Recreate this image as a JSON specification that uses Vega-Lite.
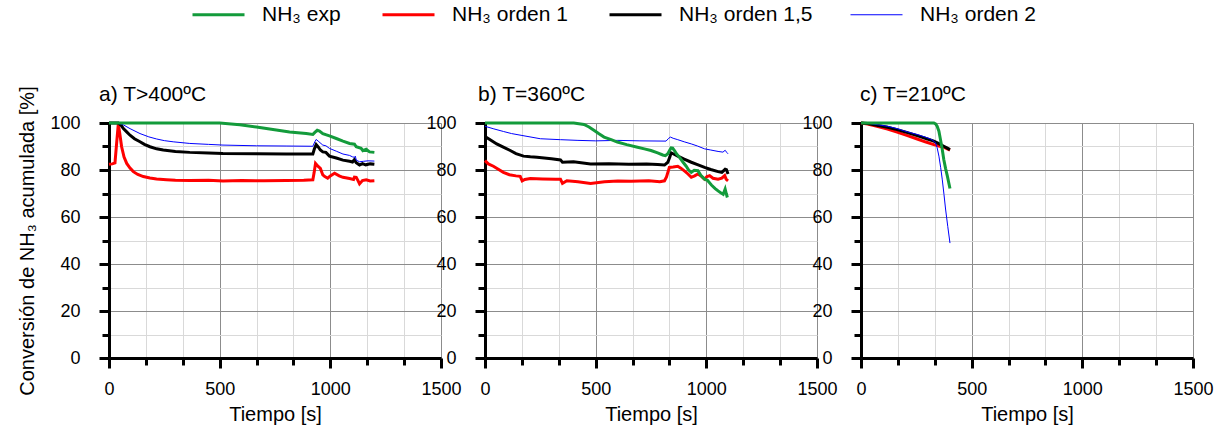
{
  "$schema": "https://vega.github.io/schema/vega-lite/v6.json",
  "padding": {"left": 17, "top": 4, "right": 4, "bottom": 4},
  "config": {
    "font": "Liberation Sans",
    "view": {"stroke": null},
    "axis": {
      "domainColor": "#000000",
      "domainWidth": 3,
      "tickColor": "#000000",
      "tickWidth": 3,
      "gridWidth": 1,
      "labelFontSize": 18,
      "labelColor": "#000000",
      "titleFontSize": 20,
      "titleFontWeight": "normal",
      "titleColor": "#000000",
      "labelOverlap": false,
      "labelFlush": false
    },
    "title": {"fontSize": 21, "fontWeight": "normal", "color": "#000000", "anchor": "start", "frame": "group", "baseline": "alphabetic", "offset": 9},
    "legend": {"labelFontSize": 21, "labelColor": "#000000", "labelLimit": 400}
  },
  "datasets": {
    "curvas": [
      {"panel": "a", "serie": "NH₃ orden 1", "tiempo": 0, "conversion": 82.4},
      {"panel": "a", "serie": "NH₃ orden 1", "tiempo": 15, "conversion": 82.6},
      {"panel": "a", "serie": "NH₃ orden 1", "tiempo": 27, "conversion": 83},
      {"panel": "a", "serie": "NH₃ orden 1", "tiempo": 35, "conversion": 92},
      {"panel": "a", "serie": "NH₃ orden 1", "tiempo": 42, "conversion": 99.5},
      {"panel": "a", "serie": "NH₃ orden 1", "tiempo": 48, "conversion": 96},
      {"panel": "a", "serie": "NH₃ orden 1", "tiempo": 57, "conversion": 89.9},
      {"panel": "a", "serie": "NH₃ orden 1", "tiempo": 68, "conversion": 85.5},
      {"panel": "a", "serie": "NH₃ orden 1", "tiempo": 80, "conversion": 82.8},
      {"panel": "a", "serie": "NH₃ orden 1", "tiempo": 95, "conversion": 80.8},
      {"panel": "a", "serie": "NH₃ orden 1", "tiempo": 110, "conversion": 79.3},
      {"panel": "a", "serie": "NH₃ orden 1", "tiempo": 130, "conversion": 78.1},
      {"panel": "a", "serie": "NH₃ orden 1", "tiempo": 155, "conversion": 77.2},
      {"panel": "a", "serie": "NH₃ orden 1", "tiempo": 185, "conversion": 76.6},
      {"panel": "a", "serie": "NH₃ orden 1", "tiempo": 215, "conversion": 76.2},
      {"panel": "a", "serie": "NH₃ orden 1", "tiempo": 260, "conversion": 75.9},
      {"panel": "a", "serie": "NH₃ orden 1", "tiempo": 300, "conversion": 75.6},
      {"panel": "a", "serie": "NH₃ orden 1", "tiempo": 365, "conversion": 75.5},
      {"panel": "a", "serie": "NH₃ orden 1", "tiempo": 450, "conversion": 75.6},
      {"panel": "a", "serie": "NH₃ orden 1", "tiempo": 515, "conversion": 75.3},
      {"panel": "a", "serie": "NH₃ orden 1", "tiempo": 600, "conversion": 75.5},
      {"panel": "a", "serie": "NH₃ orden 1", "tiempo": 700, "conversion": 75.4},
      {"panel": "a", "serie": "NH₃ orden 1", "tiempo": 800, "conversion": 75.5},
      {"panel": "a", "serie": "NH₃ orden 1", "tiempo": 880, "conversion": 75.6},
      {"panel": "a", "serie": "NH₃ orden 1", "tiempo": 921, "conversion": 75.8},
      {"panel": "a", "serie": "NH₃ orden 1", "tiempo": 927, "conversion": 79},
      {"panel": "a", "serie": "NH₃ orden 1", "tiempo": 933, "conversion": 82.8},
      {"panel": "a", "serie": "NH₃ orden 1", "tiempo": 945, "conversion": 81.5},
      {"panel": "a", "serie": "NH₃ orden 1", "tiempo": 955, "conversion": 80.7},
      {"panel": "a", "serie": "NH₃ orden 1", "tiempo": 966, "conversion": 77.9},
      {"panel": "a", "serie": "NH₃ orden 1", "tiempo": 975, "conversion": 77.2},
      {"panel": "a", "serie": "NH₃ orden 1", "tiempo": 988, "conversion": 76.5},
      {"panel": "a", "serie": "NH₃ orden 1", "tiempo": 1000, "conversion": 77.5},
      {"panel": "a", "serie": "NH₃ orden 1", "tiempo": 1019, "conversion": 78.6},
      {"panel": "a", "serie": "NH₃ orden 1", "tiempo": 1040, "conversion": 77.5},
      {"panel": "a", "serie": "NH₃ orden 1", "tiempo": 1057, "conversion": 76.9},
      {"panel": "a", "serie": "NH₃ orden 1", "tiempo": 1087, "conversion": 76.4},
      {"panel": "a", "serie": "NH₃ orden 1", "tiempo": 1105, "conversion": 76},
      {"panel": "a", "serie": "NH₃ orden 1", "tiempo": 1109, "conversion": 77},
      {"panel": "a", "serie": "NH₃ orden 1", "tiempo": 1117, "conversion": 76.9},
      {"panel": "a", "serie": "NH₃ orden 1", "tiempo": 1125, "conversion": 75.5},
      {"panel": "a", "serie": "NH₃ orden 1", "tiempo": 1132, "conversion": 74.1},
      {"panel": "a", "serie": "NH₃ orden 1", "tiempo": 1145, "conversion": 75.5},
      {"panel": "a", "serie": "NH₃ orden 1", "tiempo": 1162, "conversion": 75.8},
      {"panel": "a", "serie": "NH₃ orden 1", "tiempo": 1180, "conversion": 75.3},
      {"panel": "a", "serie": "NH₃ orden 1", "tiempo": 1199, "conversion": 75.4},

      {"panel": "a", "serie": "NH₃ orden 1,5", "tiempo": 0, "conversion": 100},
      {"panel": "a", "serie": "NH₃ orden 1,5", "tiempo": 42, "conversion": 100},
      {"panel": "a", "serie": "NH₃ orden 1,5", "tiempo": 55, "conversion": 99},
      {"panel": "a", "serie": "NH₃ orden 1,5", "tiempo": 65, "conversion": 97.6},
      {"panel": "a", "serie": "NH₃ orden 1,5", "tiempo": 80, "conversion": 96.2},
      {"panel": "a", "serie": "NH₃ orden 1,5", "tiempo": 95, "conversion": 94.8},
      {"panel": "a", "serie": "NH₃ orden 1,5", "tiempo": 115, "conversion": 93.3},
      {"panel": "a", "serie": "NH₃ orden 1,5", "tiempo": 140, "conversion": 92},
      {"panel": "a", "serie": "NH₃ orden 1,5", "tiempo": 160, "conversion": 90.9},
      {"panel": "a", "serie": "NH₃ orden 1,5", "tiempo": 185, "conversion": 89.9},
      {"panel": "a", "serie": "NH₃ orden 1,5", "tiempo": 215, "conversion": 89},
      {"panel": "a", "serie": "NH₃ orden 1,5", "tiempo": 245, "conversion": 88.5},
      {"panel": "a", "serie": "NH₃ orden 1,5", "tiempo": 300, "conversion": 87.9},
      {"panel": "a", "serie": "NH₃ orden 1,5", "tiempo": 365, "conversion": 87.5},
      {"panel": "a", "serie": "NH₃ orden 1,5", "tiempo": 450, "conversion": 87.2},
      {"panel": "a", "serie": "NH₃ orden 1,5", "tiempo": 515, "conversion": 87},
      {"panel": "a", "serie": "NH₃ orden 1,5", "tiempo": 666, "conversion": 86.9},
      {"panel": "a", "serie": "NH₃ orden 1,5", "tiempo": 800, "conversion": 86.8},
      {"panel": "a", "serie": "NH₃ orden 1,5", "tiempo": 921, "conversion": 86.8},
      {"panel": "a", "serie": "NH₃ orden 1,5", "tiempo": 928, "conversion": 89},
      {"panel": "a", "serie": "NH₃ orden 1,5", "tiempo": 936, "conversion": 90.8},
      {"panel": "a", "serie": "NH₃ orden 1,5", "tiempo": 945, "conversion": 89.8},
      {"panel": "a", "serie": "NH₃ orden 1,5", "tiempo": 955, "conversion": 88.5},
      {"panel": "a", "serie": "NH₃ orden 1,5", "tiempo": 966, "conversion": 87.7},
      {"panel": "a", "serie": "NH₃ orden 1,5", "tiempo": 980, "conversion": 87.5},
      {"panel": "a", "serie": "NH₃ orden 1,5", "tiempo": 996, "conversion": 85.9},
      {"panel": "a", "serie": "NH₃ orden 1,5", "tiempo": 1027, "conversion": 85.1},
      {"panel": "a", "serie": "NH₃ orden 1,5", "tiempo": 1057, "conversion": 84.2},
      {"panel": "a", "serie": "NH₃ orden 1,5", "tiempo": 1087, "conversion": 83.7},
      {"panel": "a", "serie": "NH₃ orden 1,5", "tiempo": 1100, "conversion": 83.4},
      {"panel": "a", "serie": "NH₃ orden 1,5", "tiempo": 1109, "conversion": 84.4},
      {"panel": "a", "serie": "NH₃ orden 1,5", "tiempo": 1117, "conversion": 83.1},
      {"panel": "a", "serie": "NH₃ orden 1,5", "tiempo": 1132, "conversion": 82.1},
      {"panel": "a", "serie": "NH₃ orden 1,5", "tiempo": 1145, "conversion": 82.7},
      {"panel": "a", "serie": "NH₃ orden 1,5", "tiempo": 1160, "conversion": 82.2},
      {"panel": "a", "serie": "NH₃ orden 1,5", "tiempo": 1180, "conversion": 82.6},
      {"panel": "a", "serie": "NH₃ orden 1,5", "tiempo": 1199, "conversion": 82.4},

      {"panel": "a", "serie": "NH₃ orden 2", "tiempo": 0, "conversion": 100},
      {"panel": "a", "serie": "NH₃ orden 2", "tiempo": 42, "conversion": 100},
      {"panel": "a", "serie": "NH₃ orden 2", "tiempo": 65, "conversion": 99.2},
      {"panel": "a", "serie": "NH₃ orden 2", "tiempo": 95, "conversion": 97.6},
      {"panel": "a", "serie": "NH₃ orden 2", "tiempo": 140, "conversion": 95.5},
      {"panel": "a", "serie": "NH₃ orden 2", "tiempo": 180, "conversion": 94.1},
      {"panel": "a", "serie": "NH₃ orden 2", "tiempo": 215, "conversion": 93.2},
      {"panel": "a", "serie": "NH₃ orden 2", "tiempo": 250, "conversion": 92.5},
      {"panel": "a", "serie": "NH₃ orden 2", "tiempo": 290, "conversion": 92},
      {"panel": "a", "serie": "NH₃ orden 2", "tiempo": 365, "conversion": 91.3},
      {"panel": "a", "serie": "NH₃ orden 2", "tiempo": 450, "conversion": 90.9},
      {"panel": "a", "serie": "NH₃ orden 2", "tiempo": 515, "conversion": 90.6},
      {"panel": "a", "serie": "NH₃ orden 2", "tiempo": 666, "conversion": 90.3},
      {"panel": "a", "serie": "NH₃ orden 2", "tiempo": 800, "conversion": 90.2},
      {"panel": "a", "serie": "NH₃ orden 2", "tiempo": 921, "conversion": 90.1},
      {"panel": "a", "serie": "NH₃ orden 2", "tiempo": 930, "conversion": 92},
      {"panel": "a", "serie": "NH₃ orden 2", "tiempo": 936, "conversion": 93},
      {"panel": "a", "serie": "NH₃ orden 2", "tiempo": 945, "conversion": 92.3},
      {"panel": "a", "serie": "NH₃ orden 2", "tiempo": 966, "conversion": 90.6},
      {"panel": "a", "serie": "NH₃ orden 2", "tiempo": 980, "conversion": 90.3},
      {"panel": "a", "serie": "NH₃ orden 2", "tiempo": 996, "conversion": 89.2},
      {"panel": "a", "serie": "NH₃ orden 2", "tiempo": 1027, "conversion": 88},
      {"panel": "a", "serie": "NH₃ orden 2", "tiempo": 1057, "conversion": 86.8},
      {"panel": "a", "serie": "NH₃ orden 2", "tiempo": 1087, "conversion": 86.2},
      {"panel": "a", "serie": "NH₃ orden 2", "tiempo": 1100, "conversion": 85.6},
      {"panel": "a", "serie": "NH₃ orden 2", "tiempo": 1109, "conversion": 85.4},
      {"panel": "a", "serie": "NH₃ orden 2", "tiempo": 1113, "conversion": 85.9},
      {"panel": "a", "serie": "NH₃ orden 2", "tiempo": 1117, "conversion": 84.2},
      {"panel": "a", "serie": "NH₃ orden 2", "tiempo": 1132, "conversion": 83.5},
      {"panel": "a", "serie": "NH₃ orden 2", "tiempo": 1150, "conversion": 83.7},
      {"panel": "a", "serie": "NH₃ orden 2", "tiempo": 1170, "conversion": 83.9},
      {"panel": "a", "serie": "NH₃ orden 2", "tiempo": 1199, "conversion": 83.8},

      {"panel": "a", "serie": "NH₃ exp", "tiempo": 0, "conversion": 100},
      {"panel": "a", "serie": "NH₃ exp", "tiempo": 200, "conversion": 100},
      {"panel": "a", "serie": "NH₃ exp", "tiempo": 400, "conversion": 100},
      {"panel": "a", "serie": "NH₃ exp", "tiempo": 500, "conversion": 100},
      {"panel": "a", "serie": "NH₃ exp", "tiempo": 591, "conversion": 99.3},
      {"panel": "a", "serie": "NH₃ exp", "tiempo": 666, "conversion": 98.3},
      {"panel": "a", "serie": "NH₃ exp", "tiempo": 741, "conversion": 97.2},
      {"panel": "a", "serie": "NH₃ exp", "tiempo": 816, "conversion": 96.2},
      {"panel": "a", "serie": "NH₃ exp", "tiempo": 891, "conversion": 95.5},
      {"panel": "a", "serie": "NH₃ exp", "tiempo": 921, "conversion": 95.1},
      {"panel": "a", "serie": "NH₃ exp", "tiempo": 930, "conversion": 96},
      {"panel": "a", "serie": "NH₃ exp", "tiempo": 941, "conversion": 96.9},
      {"panel": "a", "serie": "NH₃ exp", "tiempo": 951, "conversion": 96.6},
      {"panel": "a", "serie": "NH₃ exp", "tiempo": 966, "conversion": 95.5},
      {"panel": "a", "serie": "NH₃ exp", "tiempo": 996, "conversion": 94.5},
      {"panel": "a", "serie": "NH₃ exp", "tiempo": 1027, "conversion": 93.4},
      {"panel": "a", "serie": "NH₃ exp", "tiempo": 1057, "conversion": 92.3},
      {"panel": "a", "serie": "NH₃ exp", "tiempo": 1087, "conversion": 91.3},
      {"panel": "a", "serie": "NH₃ exp", "tiempo": 1109, "conversion": 91},
      {"panel": "a", "serie": "NH₃ exp", "tiempo": 1117, "conversion": 89.9},
      {"panel": "a", "serie": "NH₃ exp", "tiempo": 1139, "conversion": 89.2},
      {"panel": "a", "serie": "NH₃ exp", "tiempo": 1147, "conversion": 88.2},
      {"panel": "a", "serie": "NH₃ exp", "tiempo": 1162, "conversion": 88.8},
      {"panel": "a", "serie": "NH₃ exp", "tiempo": 1177, "conversion": 87.7},
      {"panel": "a", "serie": "NH₃ exp", "tiempo": 1199, "conversion": 87.5},

      {"panel": "b", "serie": "NH₃ orden 1", "tiempo": 0, "conversion": 84},
      {"panel": "b", "serie": "NH₃ orden 1", "tiempo": 15, "conversion": 82.6},
      {"panel": "b", "serie": "NH₃ orden 1", "tiempo": 38, "conversion": 81.6},
      {"panel": "b", "serie": "NH₃ orden 1", "tiempo": 60, "conversion": 80.3},
      {"panel": "b", "serie": "NH₃ orden 1", "tiempo": 83, "conversion": 79},
      {"panel": "b", "serie": "NH₃ orden 1", "tiempo": 110, "conversion": 78},
      {"panel": "b", "serie": "NH₃ orden 1", "tiempo": 140, "conversion": 77.5},
      {"panel": "b", "serie": "NH₃ orden 1", "tiempo": 159, "conversion": 77.3},
      {"panel": "b", "serie": "NH₃ orden 1", "tiempo": 168, "conversion": 75.4},
      {"panel": "b", "serie": "NH₃ orden 1", "tiempo": 180, "conversion": 76},
      {"panel": "b", "serie": "NH₃ orden 1", "tiempo": 205, "conversion": 76.4},
      {"panel": "b", "serie": "NH₃ orden 1", "tiempo": 260, "conversion": 76.2},
      {"panel": "b", "serie": "NH₃ orden 1", "tiempo": 320, "conversion": 76.1},
      {"panel": "b", "serie": "NH₃ orden 1", "tiempo": 341, "conversion": 76.1},
      {"panel": "b", "serie": "NH₃ orden 1", "tiempo": 350, "conversion": 74.3},
      {"panel": "b", "serie": "NH₃ orden 1", "tiempo": 370, "conversion": 75.4},
      {"panel": "b", "serie": "NH₃ orden 1", "tiempo": 420, "conversion": 75},
      {"panel": "b", "serie": "NH₃ orden 1", "tiempo": 477, "conversion": 74.3},
      {"panel": "b", "serie": "NH₃ orden 1", "tiempo": 540, "conversion": 75},
      {"panel": "b", "serie": "NH₃ orden 1", "tiempo": 600, "conversion": 75.3},
      {"panel": "b", "serie": "NH₃ orden 1", "tiempo": 660, "conversion": 75.2},
      {"panel": "b", "serie": "NH₃ orden 1", "tiempo": 740, "conversion": 75.4},
      {"panel": "b", "serie": "NH₃ orden 1", "tiempo": 790, "conversion": 75},
      {"panel": "b", "serie": "NH₃ orden 1", "tiempo": 811, "conversion": 75.4},
      {"panel": "b", "serie": "NH₃ orden 1", "tiempo": 820, "conversion": 77},
      {"panel": "b", "serie": "NH₃ orden 1", "tiempo": 833, "conversion": 81.1},
      {"panel": "b", "serie": "NH₃ orden 1", "tiempo": 850, "conversion": 81.3},
      {"panel": "b", "serie": "NH₃ orden 1", "tiempo": 871, "conversion": 81.6},
      {"panel": "b", "serie": "NH₃ orden 1", "tiempo": 885, "conversion": 80.8},
      {"panel": "b", "serie": "NH₃ orden 1", "tiempo": 905, "conversion": 79.3},
      {"panel": "b", "serie": "NH₃ orden 1", "tiempo": 917, "conversion": 78.3},
      {"panel": "b", "serie": "NH₃ orden 1", "tiempo": 932, "conversion": 76.9},
      {"panel": "b", "serie": "NH₃ orden 1", "tiempo": 947, "conversion": 77.5},
      {"panel": "b", "serie": "NH₃ orden 1", "tiempo": 962, "conversion": 78.3},
      {"panel": "b", "serie": "NH₃ orden 1", "tiempo": 978, "conversion": 77.3},
      {"panel": "b", "serie": "NH₃ orden 1", "tiempo": 992, "conversion": 76.1},
      {"panel": "b", "serie": "NH₃ orden 1", "tiempo": 1003, "conversion": 77.2},
      {"panel": "b", "serie": "NH₃ orden 1", "tiempo": 1015, "conversion": 77.6},
      {"panel": "b", "serie": "NH₃ orden 1", "tiempo": 1030, "conversion": 76.5},
      {"panel": "b", "serie": "NH₃ orden 1", "tiempo": 1053, "conversion": 76.1},
      {"panel": "b", "serie": "NH₃ orden 1", "tiempo": 1070, "conversion": 76.5},
      {"panel": "b", "serie": "NH₃ orden 1", "tiempo": 1083, "conversion": 77.6},
      {"panel": "b", "serie": "NH₃ orden 1", "tiempo": 1090, "conversion": 76},
      {"panel": "b", "serie": "NH₃ orden 1", "tiempo": 1098, "conversion": 75.4},

      {"panel": "b", "serie": "NH₃ orden 1,5", "tiempo": 0, "conversion": 94.3},
      {"panel": "b", "serie": "NH₃ orden 1,5", "tiempo": 25, "conversion": 92.8},
      {"panel": "b", "serie": "NH₃ orden 1,5", "tiempo": 53, "conversion": 91.1},
      {"panel": "b", "serie": "NH₃ orden 1,5", "tiempo": 85, "conversion": 89.6},
      {"panel": "b", "serie": "NH₃ orden 1,5", "tiempo": 114, "conversion": 88.3},
      {"panel": "b", "serie": "NH₃ orden 1,5", "tiempo": 140, "conversion": 87},
      {"panel": "b", "serie": "NH₃ orden 1,5", "tiempo": 174, "conversion": 85.9},
      {"panel": "b", "serie": "NH₃ orden 1,5", "tiempo": 205, "conversion": 85.6},
      {"panel": "b", "serie": "NH₃ orden 1,5", "tiempo": 235, "conversion": 85.4},
      {"panel": "b", "serie": "NH₃ orden 1,5", "tiempo": 300, "conversion": 84.8},
      {"panel": "b", "serie": "NH₃ orden 1,5", "tiempo": 341, "conversion": 84.3},
      {"panel": "b", "serie": "NH₃ orden 1,5", "tiempo": 350, "conversion": 83.3},
      {"panel": "b", "serie": "NH₃ orden 1,5", "tiempo": 400, "conversion": 83.5},
      {"panel": "b", "serie": "NH₃ orden 1,5", "tiempo": 477, "conversion": 82.6},
      {"panel": "b", "serie": "NH₃ orden 1,5", "tiempo": 560, "conversion": 82.7},
      {"panel": "b", "serie": "NH₃ orden 1,5", "tiempo": 650, "conversion": 82.4},
      {"panel": "b", "serie": "NH₃ orden 1,5", "tiempo": 730, "conversion": 82.6},
      {"panel": "b", "serie": "NH₃ orden 1,5", "tiempo": 780, "conversion": 82.3},
      {"panel": "b", "serie": "NH₃ orden 1,5", "tiempo": 811, "conversion": 82.1},
      {"panel": "b", "serie": "NH₃ orden 1,5", "tiempo": 826, "conversion": 83.3},
      {"panel": "b", "serie": "NH₃ orden 1,5", "tiempo": 835, "conversion": 85.5},
      {"panel": "b", "serie": "NH₃ orden 1,5", "tiempo": 841, "conversion": 87.3},
      {"panel": "b", "serie": "NH₃ orden 1,5", "tiempo": 852, "conversion": 86.8},
      {"panel": "b", "serie": "NH₃ orden 1,5", "tiempo": 871, "conversion": 85.9},
      {"panel": "b", "serie": "NH₃ orden 1,5", "tiempo": 900, "conversion": 84.6},
      {"panel": "b", "serie": "NH₃ orden 1,5", "tiempo": 932, "conversion": 83.3},
      {"panel": "b", "serie": "NH₃ orden 1,5", "tiempo": 960, "conversion": 82.3},
      {"panel": "b", "serie": "NH₃ orden 1,5", "tiempo": 992, "conversion": 81.1},
      {"panel": "b", "serie": "NH₃ orden 1,5", "tiempo": 1020, "conversion": 80.2},
      {"panel": "b", "serie": "NH₃ orden 1,5", "tiempo": 1053, "conversion": 79.3},
      {"panel": "b", "serie": "NH₃ orden 1,5", "tiempo": 1070, "conversion": 79},
      {"panel": "b", "serie": "NH₃ orden 1,5", "tiempo": 1085, "conversion": 80.3},
      {"panel": "b", "serie": "NH₃ orden 1,5", "tiempo": 1091, "conversion": 80.1},
      {"panel": "b", "serie": "NH₃ orden 1,5", "tiempo": 1098, "conversion": 78.3},

      {"panel": "b", "serie": "NH₃ orden 2", "tiempo": 0, "conversion": 98.6},
      {"panel": "b", "serie": "NH₃ orden 2", "tiempo": 40, "conversion": 97.5},
      {"panel": "b", "serie": "NH₃ orden 2", "tiempo": 83, "conversion": 96.4},
      {"panel": "b", "serie": "NH₃ orden 2", "tiempo": 120, "conversion": 95.5},
      {"panel": "b", "serie": "NH₃ orden 2", "tiempo": 167, "conversion": 94.7},
      {"panel": "b", "serie": "NH₃ orden 2", "tiempo": 250, "conversion": 93.3},
      {"panel": "b", "serie": "NH₃ orden 2", "tiempo": 341, "conversion": 92.9},
      {"panel": "b", "serie": "NH₃ orden 2", "tiempo": 420, "conversion": 92.6},
      {"panel": "b", "serie": "NH₃ orden 2", "tiempo": 500, "conversion": 92.4},
      {"panel": "b", "serie": "NH₃ orden 2", "tiempo": 600, "conversion": 92.6},
      {"panel": "b", "serie": "NH₃ orden 2", "tiempo": 700, "conversion": 92.4},
      {"panel": "b", "serie": "NH₃ orden 2", "tiempo": 818, "conversion": 92.3},
      {"panel": "b", "serie": "NH₃ orden 2", "tiempo": 830, "conversion": 93.5},
      {"panel": "b", "serie": "NH₃ orden 2", "tiempo": 838, "conversion": 94},
      {"panel": "b", "serie": "NH₃ orden 2", "tiempo": 850, "conversion": 93.5},
      {"panel": "b", "serie": "NH₃ orden 2", "tiempo": 871, "conversion": 92.9},
      {"panel": "b", "serie": "NH₃ orden 2", "tiempo": 900, "conversion": 92},
      {"panel": "b", "serie": "NH₃ orden 2", "tiempo": 932, "conversion": 91.1},
      {"panel": "b", "serie": "NH₃ orden 2", "tiempo": 960, "conversion": 90.2},
      {"panel": "b", "serie": "NH₃ orden 2", "tiempo": 992, "conversion": 89},
      {"panel": "b", "serie": "NH₃ orden 2", "tiempo": 1020, "conversion": 88.5},
      {"panel": "b", "serie": "NH₃ orden 2", "tiempo": 1053, "conversion": 87.9},
      {"panel": "b", "serie": "NH₃ orden 2", "tiempo": 1075, "conversion": 87.6},
      {"panel": "b", "serie": "NH₃ orden 2", "tiempo": 1085, "conversion": 88.4},
      {"panel": "b", "serie": "NH₃ orden 2", "tiempo": 1092, "conversion": 87.5},
      {"panel": "b", "serie": "NH₃ orden 2", "tiempo": 1098, "conversion": 86.9},

      {"panel": "b", "serie": "NH₃ exp", "tiempo": 0, "conversion": 100},
      {"panel": "b", "serie": "NH₃ exp", "tiempo": 200, "conversion": 100},
      {"panel": "b", "serie": "NH₃ exp", "tiempo": 300, "conversion": 100},
      {"panel": "b", "serie": "NH₃ exp", "tiempo": 401, "conversion": 100},
      {"panel": "b", "serie": "NH₃ exp", "tiempo": 447, "conversion": 99.4},
      {"panel": "b", "serie": "NH₃ exp", "tiempo": 470, "conversion": 98.3},
      {"panel": "b", "serie": "NH₃ exp", "tiempo": 492, "conversion": 96.9},
      {"panel": "b", "serie": "NH₃ exp", "tiempo": 515, "conversion": 95.4},
      {"panel": "b", "serie": "NH₃ exp", "tiempo": 538, "conversion": 94},
      {"panel": "b", "serie": "NH₃ exp", "tiempo": 570, "conversion": 92.9},
      {"panel": "b", "serie": "NH₃ exp", "tiempo": 598, "conversion": 91.9},
      {"panel": "b", "serie": "NH₃ exp", "tiempo": 640, "conversion": 90.8},
      {"panel": "b", "serie": "NH₃ exp", "tiempo": 689, "conversion": 89.7},
      {"panel": "b", "serie": "NH₃ exp", "tiempo": 720, "conversion": 89},
      {"panel": "b", "serie": "NH₃ exp", "tiempo": 750, "conversion": 88.3},
      {"panel": "b", "serie": "NH₃ exp", "tiempo": 780, "conversion": 87.3},
      {"panel": "b", "serie": "NH₃ exp", "tiempo": 803, "conversion": 86.4},
      {"panel": "b", "serie": "NH₃ exp", "tiempo": 815, "conversion": 86.1},
      {"panel": "b", "serie": "NH₃ exp", "tiempo": 826, "conversion": 86.9},
      {"panel": "b", "serie": "NH₃ exp", "tiempo": 835, "conversion": 88.5},
      {"panel": "b", "serie": "NH₃ exp", "tiempo": 841, "conversion": 89.4},
      {"panel": "b", "serie": "NH₃ exp", "tiempo": 848, "conversion": 89.3},
      {"panel": "b", "serie": "NH₃ exp", "tiempo": 856, "conversion": 88.3},
      {"panel": "b", "serie": "NH₃ exp", "tiempo": 866, "conversion": 86.8},
      {"panel": "b", "serie": "NH₃ exp", "tiempo": 879, "conversion": 85.4},
      {"panel": "b", "serie": "NH₃ exp", "tiempo": 895, "conversion": 83.3},
      {"panel": "b", "serie": "NH₃ exp", "tiempo": 909, "conversion": 81.6},
      {"panel": "b", "serie": "NH₃ exp", "tiempo": 920, "conversion": 80},
      {"panel": "b", "serie": "NH₃ exp", "tiempo": 932, "conversion": 79},
      {"panel": "b", "serie": "NH₃ exp", "tiempo": 945, "conversion": 79.9},
      {"panel": "b", "serie": "NH₃ exp", "tiempo": 962, "conversion": 79.7},
      {"panel": "b", "serie": "NH₃ exp", "tiempo": 975, "conversion": 77.7},
      {"panel": "b", "serie": "NH₃ exp", "tiempo": 992, "conversion": 76.1},
      {"panel": "b", "serie": "NH₃ exp", "tiempo": 1005, "conversion": 75.6},
      {"panel": "b", "serie": "NH₃ exp", "tiempo": 1023, "conversion": 73.6},
      {"panel": "b", "serie": "NH₃ exp", "tiempo": 1040, "conversion": 72.1},
      {"panel": "b", "serie": "NH₃ exp", "tiempo": 1053, "conversion": 71.1},
      {"panel": "b", "serie": "NH₃ exp", "tiempo": 1065, "conversion": 70.3},
      {"panel": "b", "serie": "NH₃ exp", "tiempo": 1076, "conversion": 69.7},
      {"panel": "b", "serie": "NH₃ exp", "tiempo": 1085, "conversion": 71.9},
      {"panel": "b", "serie": "NH₃ exp", "tiempo": 1090, "conversion": 70},
      {"panel": "b", "serie": "NH₃ exp", "tiempo": 1095, "conversion": 68.3},

      {"panel": "c", "serie": "NH₃ orden 1", "tiempo": 0, "conversion": 100},
      {"panel": "c", "serie": "NH₃ orden 1", "tiempo": 30, "conversion": 99.6},
      {"panel": "c", "serie": "NH₃ orden 1", "tiempo": 72, "conversion": 98.6},
      {"panel": "c", "serie": "NH₃ orden 1", "tiempo": 120, "conversion": 97.4},
      {"panel": "c", "serie": "NH₃ orden 1", "tiempo": 163, "conversion": 96.1},
      {"panel": "c", "serie": "NH₃ orden 1", "tiempo": 210, "conversion": 94.6},
      {"panel": "c", "serie": "NH₃ orden 1", "tiempo": 254, "conversion": 93.2},
      {"panel": "c", "serie": "NH₃ orden 1", "tiempo": 290, "conversion": 92},
      {"panel": "c", "serie": "NH₃ orden 1", "tiempo": 329, "conversion": 90.8},
      {"panel": "c", "serie": "NH₃ orden 1", "tiempo": 352, "conversion": 90.2},
      {"panel": "c", "serie": "NH₃ orden 1", "tiempo": 374, "conversion": 89.7},
      {"panel": "c", "serie": "NH₃ orden 1", "tiempo": 390, "conversion": 89},
      {"panel": "c", "serie": "NH₃ orden 1", "tiempo": 402, "conversion": 88.5},

      {"panel": "c", "serie": "NH₃ orden 1,5", "tiempo": 0, "conversion": 100},
      {"panel": "c", "serie": "NH₃ orden 1,5", "tiempo": 30, "conversion": 99.8},
      {"panel": "c", "serie": "NH₃ orden 1,5", "tiempo": 72, "conversion": 99},
      {"panel": "c", "serie": "NH₃ orden 1,5", "tiempo": 120, "conversion": 98.2},
      {"panel": "c", "serie": "NH₃ orden 1,5", "tiempo": 163, "conversion": 97.2},
      {"panel": "c", "serie": "NH₃ orden 1,5", "tiempo": 210, "conversion": 95.9},
      {"panel": "c", "serie": "NH₃ orden 1,5", "tiempo": 254, "conversion": 94.6},
      {"panel": "c", "serie": "NH₃ orden 1,5", "tiempo": 290, "conversion": 93.5},
      {"panel": "c", "serie": "NH₃ orden 1,5", "tiempo": 329, "conversion": 92.3},
      {"panel": "c", "serie": "NH₃ orden 1,5", "tiempo": 352, "conversion": 91.2},
      {"panel": "c", "serie": "NH₃ orden 1,5", "tiempo": 374, "conversion": 90.1},
      {"panel": "c", "serie": "NH₃ orden 1,5", "tiempo": 390, "conversion": 89.3},
      {"panel": "c", "serie": "NH₃ orden 1,5", "tiempo": 402, "conversion": 88.7},

      {"panel": "c", "serie": "NH₃ orden 2", "tiempo": 0, "conversion": 100},
      {"panel": "c", "serie": "NH₃ orden 2", "tiempo": 40, "conversion": 99.8},
      {"panel": "c", "serie": "NH₃ orden 2", "tiempo": 72, "conversion": 99.3},
      {"panel": "c", "serie": "NH₃ orden 2", "tiempo": 120, "conversion": 98.6},
      {"panel": "c", "serie": "NH₃ orden 2", "tiempo": 163, "conversion": 97.6},
      {"panel": "c", "serie": "NH₃ orden 2", "tiempo": 210, "conversion": 96.2},
      {"panel": "c", "serie": "NH₃ orden 2", "tiempo": 254, "conversion": 95.1},
      {"panel": "c", "serie": "NH₃ orden 2", "tiempo": 290, "conversion": 94},
      {"panel": "c", "serie": "NH₃ orden 2", "tiempo": 314, "conversion": 93.2},
      {"panel": "c", "serie": "NH₃ orden 2", "tiempo": 329, "conversion": 92.3},
      {"panel": "c", "serie": "NH₃ orden 2", "tiempo": 337, "conversion": 91.5},
      {"panel": "c", "serie": "NH₃ orden 2", "tiempo": 344, "conversion": 89.5},
      {"panel": "c", "serie": "NH₃ orden 2", "tiempo": 352, "conversion": 85.9},
      {"panel": "c", "serie": "NH₃ orden 2", "tiempo": 360, "conversion": 81},
      {"panel": "c", "serie": "NH₃ orden 2", "tiempo": 367, "conversion": 76.1},
      {"panel": "c", "serie": "NH₃ orden 2", "tiempo": 375, "conversion": 69.5},
      {"panel": "c", "serie": "NH₃ orden 2", "tiempo": 382, "conversion": 63.4},
      {"panel": "c", "serie": "NH₃ orden 2", "tiempo": 392, "conversion": 56},
      {"panel": "c", "serie": "NH₃ orden 2", "tiempo": 402, "conversion": 48.9},

      {"panel": "c", "serie": "NH₃ exp", "tiempo": 0, "conversion": 100},
      {"panel": "c", "serie": "NH₃ exp", "tiempo": 100, "conversion": 100},
      {"panel": "c", "serie": "NH₃ exp", "tiempo": 200, "conversion": 100},
      {"panel": "c", "serie": "NH₃ exp", "tiempo": 300, "conversion": 100},
      {"panel": "c", "serie": "NH₃ exp", "tiempo": 329, "conversion": 100},
      {"panel": "c", "serie": "NH₃ exp", "tiempo": 337, "conversion": 99.6},
      {"panel": "c", "serie": "NH₃ exp", "tiempo": 344, "conversion": 98.6},
      {"panel": "c", "serie": "NH₃ exp", "tiempo": 352, "conversion": 96.5},
      {"panel": "c", "serie": "NH₃ exp", "tiempo": 359, "conversion": 93},
      {"panel": "c", "serie": "NH₃ exp", "tiempo": 367, "conversion": 88.8},
      {"panel": "c", "serie": "NH₃ exp", "tiempo": 374, "conversion": 84.5},
      {"panel": "c", "serie": "NH₃ exp", "tiempo": 382, "conversion": 80.7},
      {"panel": "c", "serie": "NH₃ exp", "tiempo": 390, "conversion": 77.5},
      {"panel": "c", "serie": "NH₃ exp", "tiempo": 396, "conversion": 74.8},
      {"panel": "c", "serie": "NH₃ exp", "tiempo": 402, "conversion": 72.1}
    ]
  },
  "data": {"name": "curvas"},
  "spacing": 44,
  "bounds": "flush",
  "resolve": {"scale": {"color": "shared"}, "legend": {"color": "shared"}},
  "hconcat": [
    {
      "width": 332,
      "height": 235,
      "title": {"text": "a) T>400ºC", "dx": -10, "offset": -19},
      "transform": [{"filter": "datum.panel === 'a'"}],
      "mark": {"type": "line", "clip": false},
      "encoding": {
        "x": {
          "field": "tiempo", "type": "quantitative", "title": "Tiempo [s]",
          "scale": {"domain": [0, 1500], "nice": false, "zero": false},
          "axis": {
            "values": [0, 166.6667, 333.3333, 500, 666.6667, 833.3333, 1000, 1166.6667, 1333.3333, 1500],
            "format": "d",
            "labelExpr": "abs(datum.value - round(datum.value / 500) * 500) < 1 ? datum.label : ''",
            "gridColor": {"condition": {"test": "abs(datum.value - round(datum.value / 500) * 500) < 1", "value": "#8c8c8c"}, "value": "#d9d9d9"},
            "tickSize": {"condition": {"test": "abs(datum.value - round(datum.value / 500) * 500) < 1", "value": 10}, "value": 7},
            "labelPadding": 12,
            "titlePadding": 6
          }
        },
        "y": {
          "field": "conversion", "type": "quantitative", "title": "Conversión de NH₃ acumulada [%]",
          "scale": {"domain": [0, 100], "nice": false},
          "axis": {
            "values": [0, 10, 20, 30, 40, 50, 60, 70, 80, 90, 100],
            "labelExpr": "datum.value % 20 === 0 ? datum.label : ''",
            "gridColor": {"condition": {"test": "datum.value % 20 === 0", "value": "#8c8c8c"}, "value": "#d9d9d9"},
            "tickSize": {"condition": {"test": "datum.value % 20 === 0", "value": 10}, "value": 7},
            "labelPadding": 19,
            "titlePadding": 12
          }
        },
        "color": {
          "field": "serie", "type": "nominal",
          "scale": {"domain": ["NH₃ exp", "NH₃ orden 1", "NH₃ orden 1,5", "NH₃ orden 2"], "range": ["#139B3B", "#FF0000", "#000000", "#0000FF"]},
          "legend": {
            "title": null, "orient": "none", "direction": "horizontal", "legendX": 99, "legendY": -119,
            "symbolType": "M-2,0H2", "symbolSize": 676, "symbolStrokeWidth": 3, "labelOffset": 33, "columnPadding": 35,
            "encode": {"symbols": {"update": {"strokeWidth": {"signal": "datum.value === 'NH₃ orden 2' ? 1 : 3"}}}}
          }
        },
        "strokeWidth": {"condition": {"test": "datum.serie === 'NH₃ orden 2'", "value": 1}, "value": 3}
      }
    },
    {
      "width": 332,
      "height": 235,
      "title": {"text": "b) T=360ºC", "dx": -7},
      "transform": [{"filter": "datum.panel === 'b'"}],
      "mark": {"type": "line", "clip": false},
      "encoding": {
        "x": {
          "field": "tiempo", "type": "quantitative", "title": "Tiempo [s]",
          "scale": {"domain": [0, 1500], "nice": false, "zero": false},
          "axis": {
            "values": [0, 166.6667, 333.3333, 500, 666.6667, 833.3333, 1000, 1166.6667, 1333.3333, 1500],
            "format": "d",
            "labelExpr": "abs(datum.value - round(datum.value / 500) * 500) < 1 ? datum.label : ''",
            "gridColor": {"condition": {"test": "abs(datum.value - round(datum.value / 500) * 500) < 1", "value": "#8c8c8c"}, "value": "#d9d9d9"},
            "tickSize": {"condition": {"test": "abs(datum.value - round(datum.value / 500) * 500) < 1", "value": 10}, "value": 7},
            "labelPadding": 12,
            "titlePadding": 6
          }
        },
        "y": {
          "field": "conversion", "type": "quantitative", "title": null,
          "scale": {"domain": [0, 100], "nice": false},
          "axis": {
            "values": [0, 10, 20, 30, 40, 50, 60, 70, 80, 90, 100],
            "labelExpr": "datum.value % 20 === 0 ? datum.label : ''",
            "gridColor": {"condition": {"test": "datum.value % 20 === 0", "value": "#8c8c8c"}, "value": "#d9d9d9"},
            "tickSize": {"condition": {"test": "datum.value % 20 === 0", "value": 10}, "value": 7},
            "labelPadding": 19
          }
        },
        "color": {
          "field": "serie", "type": "nominal",
          "scale": {"domain": ["NH₃ exp", "NH₃ orden 1", "NH₃ orden 1,5", "NH₃ orden 2"], "range": ["#139B3B", "#FF0000", "#000000", "#0000FF"]},
          "legend": {
            "title": null, "orient": "none", "direction": "horizontal", "legendX": 99, "legendY": -119,
            "symbolType": "M-2,0H2", "symbolSize": 676, "symbolStrokeWidth": 3, "labelOffset": 33, "columnPadding": 35,
            "encode": {"symbols": {"update": {"strokeWidth": {"signal": "datum.value === 'NH₃ orden 2' ? 1 : 3"}}}}
          }
        },
        "strokeWidth": {"condition": {"test": "datum.serie === 'NH₃ orden 2'", "value": 1}, "value": 3}
      }
    },
    {
      "width": 332,
      "height": 235,
      "title": {"text": "c) T=210ºC", "dx": -1},
      "transform": [{"filter": "datum.panel === 'c'"}],
      "mark": {"type": "line", "clip": false},
      "encoding": {
        "x": {
          "field": "tiempo", "type": "quantitative", "title": "Tiempo [s]",
          "scale": {"domain": [0, 1500], "nice": false, "zero": false},
          "axis": {
            "values": [0, 166.6667, 333.3333, 500, 666.6667, 833.3333, 1000, 1166.6667, 1333.3333, 1500],
            "format": "d",
            "labelExpr": "abs(datum.value - round(datum.value / 500) * 500) < 1 ? datum.label : ''",
            "gridColor": {"condition": {"test": "abs(datum.value - round(datum.value / 500) * 500) < 1", "value": "#8c8c8c"}, "value": "#d9d9d9"},
            "tickSize": {"condition": {"test": "abs(datum.value - round(datum.value / 500) * 500) < 1", "value": 10}, "value": 7},
            "labelPadding": 12,
            "titlePadding": 6
          }
        },
        "y": {
          "field": "conversion", "type": "quantitative", "title": null,
          "scale": {"domain": [0, 100], "nice": false},
          "axis": {
            "values": [0, 10, 20, 30, 40, 50, 60, 70, 80, 90, 100],
            "labelExpr": "datum.value % 20 === 0 ? datum.label : ''",
            "gridColor": {"condition": {"test": "datum.value % 20 === 0", "value": "#8c8c8c"}, "value": "#d9d9d9"},
            "tickSize": {"condition": {"test": "datum.value % 20 === 0", "value": 10}, "value": 7},
            "labelPadding": 19
          }
        },
        "color": {
          "field": "serie", "type": "nominal",
          "scale": {"domain": ["NH₃ exp", "NH₃ orden 1", "NH₃ orden 1,5", "NH₃ orden 2"], "range": ["#139B3B", "#FF0000", "#000000", "#0000FF"]},
          "legend": {
            "title": null, "orient": "none", "direction": "horizontal", "legendX": 99, "legendY": -119,
            "symbolType": "M-2,0H2", "symbolSize": 676, "symbolStrokeWidth": 3, "labelOffset": 33, "columnPadding": 35,
            "encode": {"symbols": {"update": {"strokeWidth": {"signal": "datum.value === 'NH₃ orden 2' ? 1 : 3"}}}}
          }
        },
        "strokeWidth": {"condition": {"test": "datum.serie === 'NH₃ orden 2'", "value": 1}, "value": 3}
      }
    }
  ]
}
